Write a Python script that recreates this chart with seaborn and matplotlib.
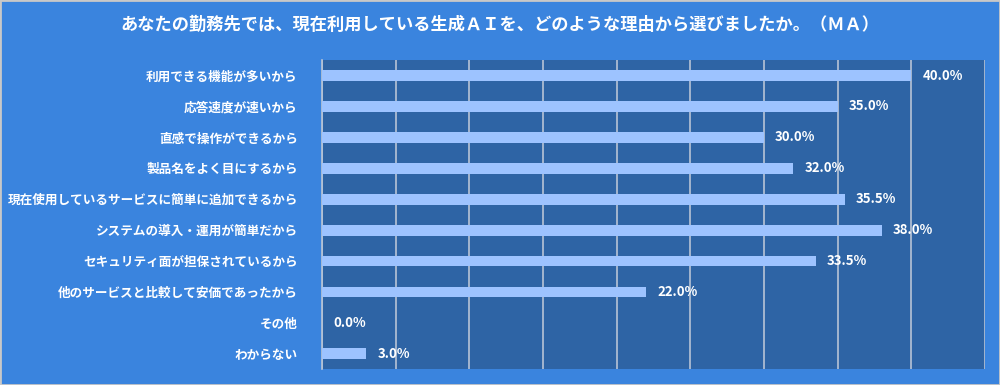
import matplotlib
matplotlib.use("Agg")
import matplotlib.pyplot as plt
import seaborn as sns
import pandas as pd
from matplotlib.patches import Rectangle

title = "あなたの勤務先では、現在利用している生成ＡＩを、どのような理由から選びましたか。（ＭＡ）"
reasons = [
    "利用できる機能が多いから",
    "応答速度が速いから",
    "直感で操作ができるから",
    "製品名をよく目にするから",
    "現在使用しているサービスに簡単に追加できるから",
    "システムの導入・運用が簡単だから",
    "セキュリティ面が担保されているから",
    "他のサービスと比較して安価であったから",
    "その他",
    "わからない",
]
percent = [40.0, 35.0, 30.0, 32.0, 35.5, 38.0, 33.5, 22.0, 0.0, 3.0]

bg_color = "#3A84DE"
panel_color = "#2E64A5"
bar_color = "#9DC3FF"

sns.set_style("white")
plt.rcParams["font.family"] = ["Noto Sans CJK JP", "DejaVu Sans"]

df = pd.DataFrame({"reason": reasons, "percent": percent})

fig = plt.figure(figsize=(10, 3.85), dpi=100, facecolor=bg_color)
ax = fig.add_axes([0.322, 0.041, 0.663, 0.803])
ax.set_facecolor(panel_color)

sns.barplot(data=df, x="percent", y="reason", color=bar_color, width=0.35,
            saturation=1, linewidth=0, ax=ax, zorder=3)

ax.set_xlim(0, 45)
ax.set_xticks(range(0, 46, 5))
ax.xaxis.grid(True, color="#B8C4D6", linewidth=1.2, zorder=0)
ax.set_axisbelow(True)
ax.tick_params(axis="x", bottom=False, labelbottom=False)
ax.tick_params(axis="y", left=False, pad=14, labelsize=9.1, labelcolor="white")
for lbl in ax.get_yticklabels():
    lbl.set_fontweight("bold")
ax.set_xlabel("")
ax.set_ylabel("")
for side in ["top", "right", "bottom"]:
    ax.spines[side].set_visible(False)
ax.spines["left"].set_color("#B8C4D6")
ax.spines["left"].set_linewidth(1.2)

ax.bar_label(ax.containers[0], labels=[f"{v:.1f}%" for v in percent],
             padding=8, color="white", fontsize=9.5, fontweight="bold")

fig.text(0.5, 0.935, title, ha="center", va="center", color="white",
         fontsize=12.4, fontweight="bold")

fig.patches.append(Rectangle((0, 0), 1, 1, transform=fig.transFigure,
                             fill=False, edgecolor="#C8C8C8", linewidth=2))

fig.savefig("out.png", dpi=100, facecolor=bg_color)
